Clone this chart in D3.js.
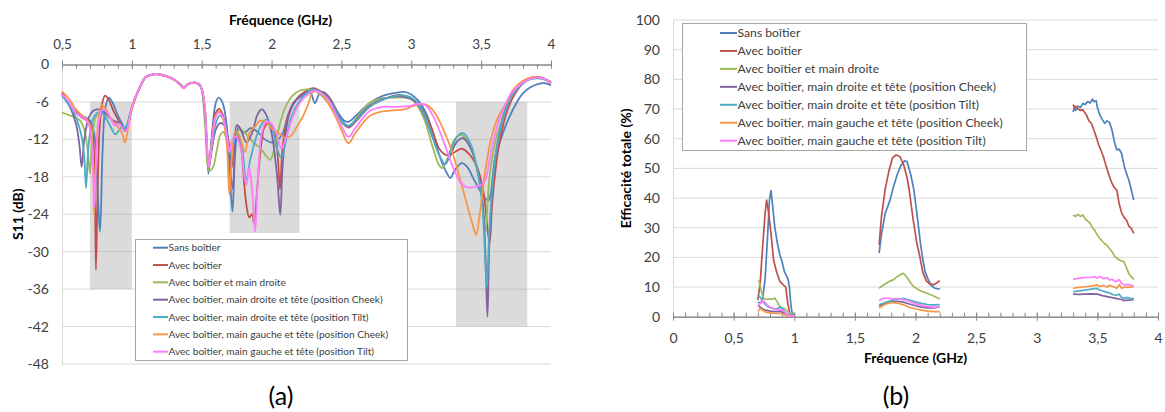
<!DOCTYPE html>
<html><head><meta charset="utf-8">
<script src="https://cdn.jsdelivr.net/npm/d3@7"></script>
<style>body{margin:0;background:#fff}svg text{font-family:Lato,'Open Sans',sans-serif}</style>
</head><body><svg id="c" width="1165" height="412"></svg>
<script>
// ---------- shared ----------
const seriesNames = [
  "Sans boîtier",
  "Avec boîtier",
  "Avec boîtier et main droite",
  "Avec boîtier, main droite et tête (position Cheek)",
  "Avec boîtier, main droite et tête (position Tilt)",
  "Avec boîtier, main gauche et tête (position Cheek)",
  "Avec boîtier, main gauche et tête (position Tilt)"
];
const seriesColors = ["#4F81BD","#C0504D","#9BBB59","#8064A2","#4BACC6","#F79646","#FF7BFF"];

// ---------- (a) S11 (dB) vs frequency (GHz) ----------
const s11XTicks = [0.5,1,1.5,2,2.5,3,3.5,4];
const s11YTicks = [0,-6,-12,-18,-24,-30,-36,-42,-48];
const s11Bands = [[0.7,1.0,-6,-36],[1.7,2.2,-6,-27],[3.32,3.83,-6,-42]];

const s11Sans = [[0.5,-4.6],[0.55,-6.3],[0.6,-7.6],[0.65,-8.3],[0.7,-9.0],[0.73,-11],[0.75,-18],[0.772,-26.8],[0.79,-14],[0.81,-7],[0.835,-5.3],[0.86,-6.0],[0.9,-8.2],[0.93,-9.5],[0.95,-10.3],[0.97,-9.5],[1.0,-6.8],[1.05,-4.0],[1.1,-2.0],[1.15,-1.6],[1.2,-1.6],[1.25,-1.9],[1.3,-2.4],[1.35,-3.3],[1.37,-3.8],[1.4,-3.2],[1.45,-2.9],[1.49,-3.4],[1.52,-6.5],[1.548,-17.5],[1.57,-12],[1.6,-6.2],[1.62,-5.3],[1.65,-6.2],[1.68,-10],[1.7,-17],[1.72,-23.6],[1.74,-14],[1.765,-10.0],[1.8,-11],[1.85,-10.2],[1.9,-10.8],[1.95,-12],[2.0,-12.5],[2.04,-12.2],[2.08,-11],[2.12,-8],[2.16,-6],[2.2,-5.2],[2.25,-4.6],[2.28,-4.6],[2.31,-6.2],[2.34,-4.8],[2.37,-4.4],[2.42,-5.5],[2.47,-7.5],[2.52,-9.0],[2.55,-9.2],[2.6,-8.3],[2.7,-6.2],[2.8,-5.0],[2.9,-4.5],[2.95,-4.4],[3.0,-4.8],[3.05,-5.8],[3.1,-7.5],[3.15,-10.5],[3.2,-14.5],[3.25,-17.2],[3.28,-18.2],[3.31,-17],[3.36,-15.8],[3.4,-16.4],[3.45,-18.5],[3.5,-20.5],[3.55,-21.8],[3.6,-15],[3.64,-12],[3.7,-8.5],[3.757,-6],[3.8,-4.6],[3.85,-3.7],[3.9,-3.2],[3.95,-3.0],[4.0,-3.3]];
const s11Avec = [[0.5,-4.5],[0.55,-6.3],[0.6,-7.8],[0.65,-8.6],[0.7,-9.3],[0.72,-11],[0.735,-20],[0.743,-32.9],[0.755,-20],[0.77,-10],[0.79,-6],[0.808,-5.0],[0.83,-5.5],[0.87,-7.5],[0.9,-8.8],[0.93,-10],[0.95,-10.5],[0.97,-9.8],[1.0,-7],[1.05,-4.0],[1.1,-2.0],[1.15,-1.6],[1.2,-1.6],[1.25,-1.9],[1.3,-2.4],[1.35,-3.3],[1.37,-3.8],[1.4,-3.2],[1.45,-2.9],[1.49,-3.4],[1.52,-6.5],[1.548,-16.8],[1.57,-12.5],[1.6,-7.8],[1.625,-7.1],[1.65,-8],[1.68,-11],[1.7,-14],[1.715,-16.5],[1.73,-12],[1.75,-11],[1.78,-13],[1.8,-18],[1.82,-22.5],[1.84,-24.5],[1.86,-24.0],[1.875,-25.5],[1.89,-22],[1.92,-14],[1.95,-10],[1.98,-9.4],[2.02,-10.5],[2.045,-15],[2.06,-20],[2.08,-13],[2.12,-8],[2.16,-6.2],[2.2,-5.0],[2.25,-4.2],[2.3,-3.8],[2.35,-4.3],[2.4,-5.0],[2.45,-6.8],[2.5,-9.0],[2.55,-10.1],[2.6,-9.2],[2.7,-6.8],[2.8,-5.6],[2.9,-4.9],[2.95,-5.0],[3.0,-5.4],[3.05,-6.3],[3.1,-8],[3.15,-10.5],[3.2,-13.5],[3.25,-14.5],[3.3,-14.2],[3.36,-13.5],[3.42,-14.5],[3.48,-17],[3.52,-21],[3.56,-28.6],[3.58,-22],[3.62,-14],[3.66,-9.5],[3.7,-6.6],[3.75,-4.4],[3.8,-3.0],[3.85,-2.3],[3.9,-2.1],[3.95,-2.3],[4.0,-2.9]];
const s11MainDroite = [[0.5,-7.7],[0.55,-8.1],[0.6,-8.5],[0.63,-9.0],[0.66,-10.5],[0.685,-14],[0.7,-17.5],[0.715,-12],[0.74,-8.5],[0.77,-7.6],[0.8,-7.7],[0.84,-8.6],[0.88,-9.2],[0.91,-9.5],[0.94,-10.4],[0.97,-9.5],[1.0,-6.8],[1.05,-4.0],[1.1,-2.0],[1.15,-1.6],[1.2,-1.6],[1.25,-1.9],[1.3,-2.4],[1.35,-3.2],[1.37,-3.6],[1.4,-3.1],[1.45,-2.9],[1.49,-3.4],[1.52,-8.5],[1.555,-17.0],[1.58,-16.5],[1.61,-13.5],[1.635,-11.2],[1.655,-10.8],[1.68,-12.0],[1.71,-12.8],[1.74,-11.5],[1.775,-10.4],[1.82,-11.2],[1.87,-12.5],[1.92,-13.4],[1.96,-14.6],[1.99,-15.3],[2.02,-13.5],[2.06,-9.5],[2.1,-6.8],[2.15,-5.0],[2.2,-4.2],[2.25,-4.0],[2.3,-4.1],[2.35,-4.8],[2.4,-6.0],[2.45,-7.6],[2.5,-9.3],[2.55,-9.9],[2.6,-8.8],[2.7,-6.2],[2.8,-5.4],[2.9,-5.3],[2.95,-5.3],[3.0,-5.6],[3.05,-6.8],[3.1,-9.2],[3.15,-13],[3.2,-16.2],[3.22,-16.6],[3.26,-15],[3.31,-12],[3.36,-11.3],[3.42,-13],[3.47,-17],[3.51,-22],[3.53,-26.8],[3.56,-18],[3.6,-12.5],[3.64,-9.5],[3.68,-6.8],[3.73,-4.5],[3.8,-2.9],[3.85,-2.3],[3.9,-2.1],[3.95,-2.3],[4.0,-2.9]];
const s11DroiteCheek = [[0.5,-4.9],[0.55,-6.5],[0.6,-9.5],[0.625,-13],[0.641,-16.4],[0.66,-12],[0.69,-8.6],[0.72,-7.5],[0.75,-7.2],[0.78,-7.3],[0.82,-8.0],[0.86,-8.9],[0.9,-9.3],[0.93,-10.0],[0.95,-10.7],[0.97,-9.5],[1.0,-7.0],[1.05,-4.0],[1.1,-2.0],[1.15,-1.6],[1.2,-1.6],[1.25,-1.9],[1.3,-2.4],[1.35,-3.3],[1.37,-3.8],[1.4,-3.2],[1.45,-2.9],[1.49,-3.4],[1.52,-7],[1.55,-16.5],[1.57,-14],[1.6,-10.5],[1.63,-9.4],[1.66,-9.7],[1.69,-12],[1.71,-18],[1.725,-20],[1.735,-14],[1.751,-9.7],[1.78,-10.5],[1.82,-12.5],[1.86,-11],[1.9,-8],[1.93,-7.2],[1.96,-8],[2.0,-11],[2.04,-18],[2.062,-24.1],[2.08,-16],[2.12,-8.5],[2.16,-6.2],[2.2,-5.2],[2.25,-4.5],[2.3,-4.0],[2.35,-4.3],[2.4,-5.2],[2.45,-7.0],[2.5,-9.0],[2.55,-10.0],[2.6,-9.0],[2.7,-6.6],[2.8,-5.5],[2.9,-5.1],[2.95,-5.2],[3.0,-5.5],[3.05,-6.5],[3.1,-8.5],[3.15,-11.5],[3.2,-14.5],[3.24,-16],[3.28,-14.5],[3.33,-12.3],[3.37,-11.8],[3.42,-13.2],[3.47,-16.5],[3.51,-22],[3.53,-30],[3.545,-40.4],[3.56,-28],[3.6,-15],[3.64,-10],[3.68,-6.8],[3.73,-4.5],[3.8,-2.8],[3.85,-2.2],[3.9,-2.0],[3.95,-2.2],[4.0,-2.8]];
const s11DroiteTilt = [[0.5,-5.0],[0.55,-6.5],[0.6,-8.5],[0.64,-11.5],[0.66,-15],[0.672,-19.8],[0.69,-13],[0.72,-8.8],[0.75,-7.8],[0.78,-7.6],[0.82,-8.8],[0.86,-10.5],[0.88,-11.2],[0.9,-10.8],[0.93,-10.0],[0.95,-10.2],[0.97,-9.3],[1.0,-6.8],[1.05,-4.0],[1.1,-2.0],[1.15,-1.6],[1.2,-1.6],[1.25,-1.9],[1.3,-2.4],[1.35,-3.3],[1.37,-3.8],[1.4,-3.2],[1.45,-2.9],[1.49,-3.4],[1.52,-6.8],[1.55,-16.5],[1.57,-13.5],[1.6,-9.5],[1.63,-8.2],[1.66,-9.0],[1.69,-13],[1.71,-14.5],[1.74,-11.5],[1.76,-11],[1.79,-13.5],[1.818,-18.5],[1.85,-15],[1.9,-11],[1.94,-9.2],[1.966,-8.8],[2.0,-10],[2.04,-13.5],[2.07,-15.0],[2.1,-12.5],[2.14,-8.5],[2.2,-5.8],[2.25,-4.6],[2.3,-4.0],[2.35,-4.4],[2.4,-5.3],[2.45,-7.0],[2.5,-9.0],[2.55,-9.8],[2.6,-9.0],[2.7,-6.8],[2.8,-5.6],[2.9,-5.0],[2.95,-5.0],[3.0,-5.3],[3.05,-6.3],[3.1,-8.3],[3.15,-11.5],[3.2,-14.5],[3.24,-16],[3.28,-14],[3.33,-11.5],[3.37,-11.0],[3.42,-12.5],[3.47,-16.5],[3.51,-23],[3.54,-35.6],[3.56,-26],[3.6,-15],[3.64,-10],[3.68,-7],[3.73,-4.7],[3.8,-3.0],[3.85,-2.4],[3.9,-2.2],[3.95,-2.4],[4.0,-3.0]];
const s11GaucheCheek = [[0.5,-4.3],[0.55,-5.5],[0.6,-7.2],[0.65,-8.3],[0.69,-9.2],[0.715,-12],[0.725,-18],[0.73,-24],[0.74,-17],[0.76,-9],[0.785,-6.5],[0.81,-7.0],[0.85,-8.7],[0.9,-10.0],[0.93,-11],[0.951,-12.5],[0.97,-10.5],[1.0,-7.2],[1.05,-4.0],[1.1,-2.0],[1.15,-1.6],[1.2,-1.6],[1.25,-1.9],[1.3,-2.4],[1.35,-3.3],[1.37,-3.8],[1.4,-3.2],[1.45,-2.9],[1.49,-3.4],[1.52,-6.5],[1.55,-16.5],[1.57,-13],[1.6,-8.2],[1.625,-7.5],[1.65,-8.5],[1.68,-13],[1.698,-20.9],[1.715,-15],[1.74,-10.8],[1.77,-11.5],[1.81,-14],[1.84,-11],[1.88,-10.0],[1.92,-9.0],[1.96,-9.2],[2.0,-10.2],[2.05,-11.0],[2.1,-11.8],[2.14,-11.4],[2.18,-10],[2.22,-8.5],[2.26,-6.5],[2.3,-4.3],[2.35,-4.5],[2.4,-6],[2.45,-8],[2.5,-10.5],[2.55,-12.6],[2.6,-11],[2.7,-8.3],[2.8,-7.5],[2.9,-7.3],[2.95,-7.2],[3.0,-6.8],[3.05,-6.4],[3.1,-6.4],[3.15,-7.2],[3.2,-9],[3.25,-11.5],[3.3,-14.5],[3.35,-18.5],[3.4,-22.5],[3.45,-26.5],[3.465,-27.3],[3.49,-24],[3.53,-17],[3.57,-12],[3.62,-8.5],[3.685,-6],[3.73,-4.0],[3.8,-2.6],[3.85,-2.1],[3.9,-2.0],[3.95,-2.3],[4.0,-3.0]];
const s11GaucheTilt = [[0.5,-4.8],[0.55,-6.0],[0.6,-7.8],[0.65,-8.5],[0.69,-9.5],[0.71,-12],[0.725,-18],[0.732,-22.8],[0.745,-15],[0.765,-9],[0.79,-7.2],[0.82,-7.6],[0.85,-8.8],[0.88,-9.8],[0.91,-9.5],[0.94,-10.5],[0.96,-10.6],[0.98,-9],[1.0,-6.8],[1.05,-4.0],[1.1,-2.0],[1.15,-1.6],[1.2,-1.6],[1.25,-1.9],[1.3,-2.4],[1.35,-3.3],[1.37,-3.8],[1.4,-3.2],[1.45,-2.9],[1.49,-3.4],[1.52,-6.2],[1.55,-16.4],[1.57,-13],[1.6,-8.5],[1.625,-7.7],[1.65,-8.3],[1.68,-11.5],[1.7,-14],[1.72,-12],[1.745,-11.5],[1.78,-13.5],[1.805,-18],[1.82,-19.3],[1.84,-16.5],[1.86,-20],[1.882,-26.8],[1.9,-19],[1.93,-11],[1.96,-9.2],[2.0,-9.5],[2.04,-11.5],[2.07,-13.5],[2.1,-12],[2.15,-8.5],[2.2,-6.2],[2.25,-5],[2.3,-4.2],[2.35,-4.6],[2.4,-5.5],[2.45,-7.5],[2.5,-9.8],[2.55,-11.6],[2.6,-10.2],[2.7,-7.5],[2.8,-6.8],[2.9,-6.8],[3.0,-6.6],[3.05,-6.3],[3.1,-6.5],[3.15,-8.0],[3.2,-10.5],[3.25,-13.5],[3.3,-16.5],[3.35,-18.8],[3.4,-19.7],[3.45,-19.6],[3.5,-19.3],[3.53,-18.5],[3.57,-14],[3.62,-9.5],[3.67,-6.5],[3.72,-4.5],[3.8,-2.9],[3.85,-2.3],[3.9,-2.1],[3.95,-2.3],[4.0,-2.9]];
const s11Series = [s11Sans, s11Avec, s11MainDroite, s11DroiteCheek, s11DroiteTilt, s11GaucheCheek, s11GaucheTilt];

// ---------- (b) total efficiency (%) vs frequency (GHz) ----------
const effXTicks = [0,0.5,1,1.5,2,2.5,3,3.5,4];
const effYTicks = [0,10,20,30,40,50,60,70,80,90,100];

const effSans = [[0.7,5],[0.72,4.5],[0.74,6],[0.76,13],[0.78,27],[0.795,39],[0.808,42.5],[0.82,38],[0.84,30],[0.86,25],[0.88,21],[0.9,18.5],[0.92,15],[0.94,13.5],[0.95,12.5],[0.96,10],[0.97,5],[0.98,1.7],[0.99,1],[1.0,1],
  [1.7,21.4],[1.72,28],[1.75,34.8],[1.79,39.3],[1.82,44],[1.85,48],[1.88,51],[1.91,52.5],[1.93,52.3],[1.96,48],[1.987,42.7],[2.02,32],[2.04,25],[2.057,20.2],[2.08,15],[2.105,12.5],[2.13,10.5],[2.16,9.6],[2.2,9.3],
  [3.3,69],[3.31,70.5],[3.32,69.5],[3.34,71],[3.36,70.5],[3.38,71.9],[3.4,71.5],[3.42,72.5],[3.44,72],[3.46,73.3],[3.47,72.5],[3.49,72.8],[3.5,70.5],[3.52,68],[3.54,66.5],[3.56,65.2],[3.58,66],[3.6,65.5],[3.62,63],[3.64,59],[3.66,56.2],[3.68,56.5],[3.7,55],[3.72,51],[3.74,48.3],[3.76,46],[3.78,42.7],[3.8,39.3]];
const effAvec = [[0.7,5.6],[0.72,12],[0.74,24],[0.76,35],[0.772,39.3],[0.785,36],[0.8,31],[0.813,26],[0.83,19],[0.855,15],[0.88,12],[0.91,10.7],[0.93,10],[0.945,5],[0.96,1.7],[0.97,0.8],[1.0,1],
  [1.7,24.2],[1.72,34],[1.75,43],[1.78,49],[1.81,53.5],[1.84,54.5],[1.87,54],[1.9,51.5],[1.93,47],[1.948,42.7],[1.98,33],[2.01,25],[2.036,20.2],[2.06,15],[2.09,12],[2.12,11],[2.15,10.8],[2.18,11.5],[2.2,12.2],
  [3.3,71.5],[3.31,70.5],[3.32,71],[3.34,70],[3.36,69.5],[3.38,69.8],[3.4,68.5],[3.41,68],[3.43,66],[3.45,65.2],[3.47,63],[3.49,60.7],[3.51,58],[3.53,56],[3.55,53.9],[3.57,51],[3.6,47.2],[3.62,45],[3.64,43.5],[3.66,42.7],[3.68,38],[3.7,35],[3.72,33.5],[3.74,32.6],[3.76,30.5],[3.78,29.8],[3.8,28.1]];
const effMainDroite = [[0.7,12.1],[0.71,12],[0.72,10],[0.735,7.5],[0.75,6.2],[0.77,5.8],[0.79,5.9],[0.82,5.9],[0.84,6.3],[0.86,5.0],[0.88,3.5],[0.9,3.0],[0.92,2.8],[0.94,2.0],[0.96,1.2],[0.98,1],[1.0,1],
  [1.7,9.6],[1.73,10.5],[1.76,11.3],[1.79,12],[1.82,12.5],[1.85,13.5],[1.88,14.3],[1.9,14.6],[1.92,13.8],[1.95,12],[1.98,10.3],[2.02,9.2],[2.06,8.4],[2.1,7.8],[2.15,7.0],[2.2,6.0],
  [3.3,34.3],[3.32,33.8],[3.34,34.5],[3.36,33.8],[3.38,34.3],[3.4,33],[3.42,32.2],[3.44,31.5],[3.46,30],[3.48,29],[3.5,27.5],[3.52,26.4],[3.54,25.5],[3.56,24.6],[3.58,24],[3.6,23],[3.62,22],[3.64,20.5],[3.66,19.7],[3.68,19.2],[3.7,18.8],[3.72,18.5],[3.74,16.5],[3.76,14.5],[3.78,13.5],[3.8,12.6]];
const effDroiteCheek = [[0.7,3.8],[0.72,3.2],[0.74,2.6],[0.76,2.2],[0.8,1.9],[0.84,1.7],[0.88,1.8],[0.9,1.6],[0.93,0.9],[0.95,0.4],[1.0,0.3],
  [1.7,3.6],[1.75,4.5],[1.8,5.0],[1.85,5.2],[1.9,4.9],[1.95,4.3],[2.0,3.7],[2.05,3.2],[2.1,3.0],[2.15,3.0],[2.2,3.3],
  [3.3,7.6],[3.35,7.5],[3.4,7.6],[3.45,7.7],[3.5,7.6],[3.55,7.0],[3.6,6.6],[3.65,6.2],[3.7,5.8],[3.72,5.4],[3.75,5.6],[3.78,5.7],[3.8,5.8]];
const effDroiteTilt = [[0.7,7.3],[0.72,6.5],[0.74,5.2],[0.76,4.2],[0.78,3.5],[0.8,3.0],[0.82,2.8],[0.84,2.6],[0.86,2.7],[0.88,3.2],[0.9,2.8],[0.92,1.8],[0.94,1.0],[0.96,0.5],[1.0,0.8],
  [1.7,4.0],[1.75,4.8],[1.8,5.4],[1.85,5.9],[1.9,6.1],[1.95,5.6],[2.0,5.0],[2.05,4.5],[2.1,4.1],[2.15,4.0],[2.2,4.1],
  [3.3,8.4],[3.35,8.7],[3.4,9.0],[3.45,9.3],[3.49,9.6],[3.52,9.0],[3.55,8.6],[3.58,8.2],[3.6,8.0],[3.63,7.4],[3.66,7.3],[3.68,7.6],[3.7,6.5],[3.72,6.2],[3.75,6.5],[3.78,6.0],[3.8,6.2]];
const effGaucheCheek = [[0.7,1.8],[0.72,2.8],[0.74,2.2],[0.76,1.6],[0.8,1.3],[0.85,1.1],[0.9,1.0],[0.93,0.5],[0.95,0.2],[1.0,0.2],
  [1.7,3.0],[1.75,4.2],[1.8,4.8],[1.85,4.6],[1.9,4.0],[1.95,3.2],[2.0,2.6],[2.05,2.2],[2.1,1.9],[2.15,1.7],[2.2,1.7],
  [3.3,9.6],[3.35,9.9],[3.4,10.1],[3.45,10.3],[3.5,10.7],[3.52,10.2],[3.55,10.5],[3.58,10.0],[3.6,10.6],[3.63,10.1],[3.66,9.6],[3.68,10.8],[3.7,9.6],[3.73,10.0],[3.76,9.9],[3.8,10.1]];
const effGaucheTilt = [[0.7,3.5],[0.72,4.5],[0.74,5.5],[0.76,4.8],[0.78,3.8],[0.8,3.2],[0.84,2.6],[0.88,2.2],[0.9,2.3],[0.92,1.6],[0.94,0.8],[0.96,0.3],[1.0,0.3],
  [1.7,5.3],[1.72,6.0],[1.75,6.3],[1.8,6.1],[1.85,6.0],[1.9,5.8],[1.95,5.2],[2.0,4.4],[2.05,3.8],[2.1,3.4],[2.15,3.2],[2.2,3.3],
  [3.3,12.6],[3.35,13.0],[3.4,13.2],[3.45,13.3],[3.48,13.5],[3.5,13.0],[3.52,13.6],[3.55,12.8],[3.58,13.2],[3.6,12.4],[3.62,12.6],[3.65,11.8],[3.68,12.5],[3.7,11.2],[3.72,10.7],[3.75,10.9],[3.78,10.5],[3.8,10.5]];
const effSeries = [effSans, effAvec, effMainDroite, effDroiteCheek, effDroiteTilt, effGaucheCheek, effGaucheTilt];

// ---------- drawing ----------
const svg = d3.select("#c");
const fmtComma = v => String(v).replace(".", ",");
const GRID = "#D9D9D9", AXIS = "#868686", TXT = "#404040";

function styleAxis(g, size){
  g.select(".domain").attr("stroke", AXIS);
  g.selectAll(".tick line").attr("stroke", AXIS);
  g.selectAll(".tick text").attr("fill", TXT).style("font-size",(size||13)+"px").style("font-family","Lato, sans-serif");
}

// ===== Panel (a) =====
const xA = d3.scaleLinear().domain([0.5,4]).range([62,551]);
const yA = d3.scaleLinear().domain([0,-48]).range([64.5,364]);
const gA = svg.append("g");

gA.append("g").selectAll("line").data(s11YTicks.filter(d=>d!==0)).join("line")
  .attr("x1", xA(0.5)).attr("x2", xA(4)).attr("y1", d=>yA(d)).attr("y2", d=>yA(d))
  .attr("stroke", GRID).attr("stroke-width",1);
gA.append("g").selectAll("rect").data(s11Bands).join("rect")
  .attr("x", d=>xA(d[0])).attr("width", d=>xA(d[1])-xA(d[0]))
  .attr("y", d=>yA(d[2])).attr("height", d=>yA(d[3])-yA(d[2]))
  .attr("fill", "#A6A6A6").attr("fill-opacity", 0.4);

const yAxA = gA.append("g").attr("transform", `translate(${xA(0.5)},0)`)
  .call(d3.axisLeft(yA).tickValues(s11YTicks).tickFormat(d=>String(d)).tickSize(0).tickPadding(13));
styleAxis(yAxA, 14);
yAxA.select(".domain").attr("stroke", GRID);

const xMinorA = gA.append("g").attr("transform", `translate(0,${yA(0)})`)
  .call(d3.axisTop(xA).tickValues(d3.range(5,41).map(d=>d/10)).tickFormat("").tickSizeInner(-4).tickSizeOuter(0));
styleAxis(xMinorA);
const xAxA = gA.append("g").attr("transform", `translate(0,${yA(0)})`)
  .call(d3.axisTop(xA).tickValues(s11XTicks).tickFormat(fmtComma).tickSizeInner(4).tickSizeOuter(0).tickPadding(12));
styleAxis(xAxA, 13.5);
xAxA.selectAll(".tick line").attr("y1", 4);

gA.append("text").attr("x", 280.5).attr("y", 25).attr("text-anchor","middle")
  .style("font-size","14px").style("font-weight","bold").attr("fill","#000").text("Fréquence (GHz)");
gA.append("text").attr("transform", `translate(23,${(yA(0)+yA(-48))/2}) rotate(-90)`).attr("text-anchor","middle")
  .style("font-size","14px").style("font-weight","bold").attr("fill","#000").text("S11 (dB)");

const lineA = d3.line().x(d=>xA(d[0])).y(d=>yA(d[1])).curve(d3.curveCatmullRom.alpha(0.5));
gA.append("g").selectAll("path").data(s11Series).join("path")
  .attr("d", lineA).attr("fill","none").attr("stroke",(d,i)=>seriesColors[i]).attr("stroke-width",1.8)
  .attr("stroke-linejoin","round");

const legA = gA.append("g");
legA.append("rect").attr("x",135.5).attr("y",239.5).attr("width",272).attr("height",121)
  .attr("fill","#fff").attr("stroke","#A6A6A6");
const legAItems = legA.selectAll("g.it").data(seriesNames).join("g").attr("class","it")
  .attr("transform",(d,i)=>`translate(0,${247.7 + i*17.33})`);
legAItems.append("line").attr("x1",153).attr("x2",168).attr("stroke",(d,i)=>seriesColors[i]).attr("stroke-width",2);
legAItems.append("text").attr("x",168.5).attr("dy","0.35em").style("font-size","10.1px").attr("fill",TXT).text(d=>d);

gA.append("text").attr("x",281).attr("y",405).attr("text-anchor","middle")
  .style("font-size","25px").attr("fill","#000").text("(a)");

// ===== Panel (b) =====
const xB = d3.scaleLinear().domain([0,4]).range([673,1158]);
const yB = d3.scaleLinear().domain([0,100]).range([316.7,20]);
const gB = svg.append("g");

gB.append("g").selectAll("line").data(effYTicks.filter(d=>d!==0)).join("line")
  .attr("x1", xB(0)).attr("x2", xB(4)).attr("y1", d=>yB(d)).attr("y2", d=>yB(d))
  .attr("stroke", GRID).attr("stroke-width",1);

const yAxB = gB.append("g").attr("transform", `translate(${xB(0)},0)`)
  .call(d3.axisLeft(yB).tickValues(effYTicks).tickSize(0).tickPadding(13));
styleAxis(yAxB, 14);
yAxB.select(".domain").attr("stroke", GRID);

const xMinorB = gB.append("g").attr("transform", `translate(0,${yB(0)})`)
  .call(d3.axisBottom(xB).tickValues(d3.range(0,41).map(d=>d/10)).tickFormat("").tickSizeInner(-4).tickSizeOuter(0));
styleAxis(xMinorB);
const xAxB = gB.append("g").attr("transform", `translate(0,${yB(0)})`)
  .call(d3.axisBottom(xB).tickValues(effXTicks).tickFormat(fmtComma).tickSizeInner(4).tickSizeOuter(0).tickPadding(12));
styleAxis(xAxB, 14);
xAxB.selectAll(".tick line").attr("y1", -4);

gB.append("text").attr("x", 915.5).attr("y", 363).attr("text-anchor","middle")
  .style("font-size","14px").style("font-weight","bold").attr("fill","#000").text("Fréquence (GHz)");
gB.append("text").attr("transform", `translate(631,${(yB(0)+yB(100))/2}) rotate(-90)`).attr("text-anchor","middle")
  .style("font-size","14px").style("font-weight","bold").attr("fill","#000").text("Efficacité totale (%)");

const lineB = d3.line().x(d=>xB(d[0])).y(d=>yB(d[1]));
function splitBands(arr){
  const out=[]; let cur=[];
  arr.forEach((p,i)=>{ if(i>0 && p[0]-arr[i-1][0]>0.3){ out.push(cur); cur=[]; } cur.push(p); });
  out.push(cur); return out;
}
effSeries.forEach((s,i)=>{
  gB.append("g").selectAll("path").data(splitBands(s)).join("path")
    .attr("d", lineB).attr("fill","none").attr("stroke",seriesColors[i]).attr("stroke-width",1.7)
    .attr("stroke-linejoin","round");
});

const legB = gB.append("g");
legB.append("rect").attr("x",682.5).attr("y",23.5).attr("width",344).attr("height",127)
  .attr("fill","#fff").attr("stroke","#A6A6A6");
const legBItems = legB.selectAll("g.it").data(seriesNames).join("g").attr("class","it")
  .attr("transform",(d,i)=>`translate(0,${33 + i*17.95})`);
legBItems.append("line").attr("x1",720).attr("x2",737).attr("stroke",(d,i)=>seriesColors[i]).attr("stroke-width",2);
legBItems.append("text").attr("x",737.5).attr("dy","0.35em").style("font-size","12.2px").attr("fill",TXT).text(d=>d);

gB.append("text").attr("x",896).attr("y",405).attr("text-anchor","middle")
  .style("font-size","25px").attr("fill","#000").text("(b)");
</script></body></html>
